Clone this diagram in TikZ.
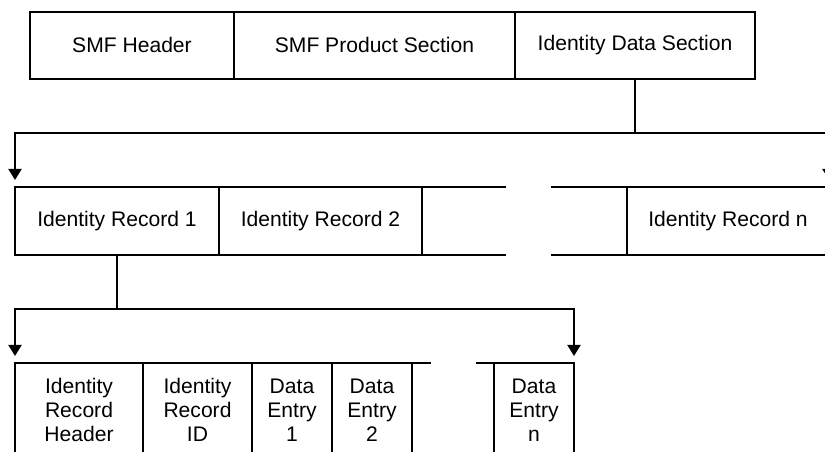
\documentclass[tikz,border=0pt]{standalone}
\usepackage{fontspec}
\setmainfont{Liberation Sans}
\usetikzlibrary{calc, arrows.meta, positioning}

\tikzset{
  cell/.style={draw, line width=1.1pt, outer sep=0pt, inner sep=2pt, align=center,
    font={\fontsize{12pt}{13.7pt}\selectfont}},
  arr/.style={line width=1.1pt, -{Triangle[width=0.26cm,length=0.22cm]}, shorten >=0.14cm},
  bar/.style={line width=1.1pt}
}

\begin{document}
\begin{tikzpicture}[scale=1]
\clip (0,0) rectangle (16.5,-9.04);
% top row
\node[cell, minimum width=4.08cm, minimum height=1.346cm] (smfhdr) at (2.64,-0.907) {SMF Header};
\node[cell, minimum width=5.62cm, minimum height=1.346cm, right=0pt of smfhdr] (prodsec) {SMF Product Section};
\node[cell, minimum width=4.8cm, minimum height=1.346cm, right=0pt of prodsec] (idsec) {Identity Data Section};
% identity records
\node[cell, minimum width=4.08cm, minimum height=1.36cm] (rec1) at (2.34,-4.42) {Identity Record 1};
\node[cell, minimum width=4.06cm, minimum height=1.36cm, right=0pt of rec1] (rec2) {Identity Record 2};
\node[cell, minimum width=4.04cm, minimum height=1.36cm] (recn) at (14.56,-4.42) {Identity Record n};
\draw[bar] (rec2.north east) -- ++(1.68,0);
\draw[bar] (rec2.south east) -- ++(1.68,0);
\draw[bar] (recn.north west) -- ++(-1.52,0);
\draw[bar] (recn.south west) -- ++(-1.52,0);
% record contents
\node[cell, minimum width=2.56cm, minimum height=1.88cm] (rechdr) at (1.58,-8.2) {Identity\\Record\\Header};
\node[cell, minimum width=2.18cm, minimum height=1.88cm, right=0pt of rechdr] (recid) {Identity\\Record\\ID};
\node[cell, minimum width=1.6cm, minimum height=1.88cm, right=0pt of recid] (ent1) {Data\\Entry\\1};
\node[cell, minimum width=1.6cm, minimum height=1.88cm, right=0pt of ent1] (ent2) {Data\\Entry\\2};
\node[cell, minimum width=1.6cm, minimum height=1.88cm] (entn) at (10.68,-8.2) {Data\\Entry\\n};
\draw[bar] (ent2.north east) -- ++(0.37,0);
\draw[bar] (entn.north west) -- ++(-0.36,0);
% connectors
\coordinate (bus1) at (0,-2.66);
\coordinate (bus2) at (0,-6.18);
\draw[bar] (idsec.south) -- (idsec.south |- bus1);
\draw[arr] (idsec.south |- bus1) -| (rec1.north west);
\draw[arr] (idsec.south |- bus1) -| (recn.north east);
\draw[bar] (rec1.south) -- (rec1.south |- bus2);
\draw[arr] (rec1.south |- bus2) -| (rechdr.north west);
\draw[arr] (rec1.south |- bus2) -| (entn.north east);
\end{tikzpicture}
\end{document}
